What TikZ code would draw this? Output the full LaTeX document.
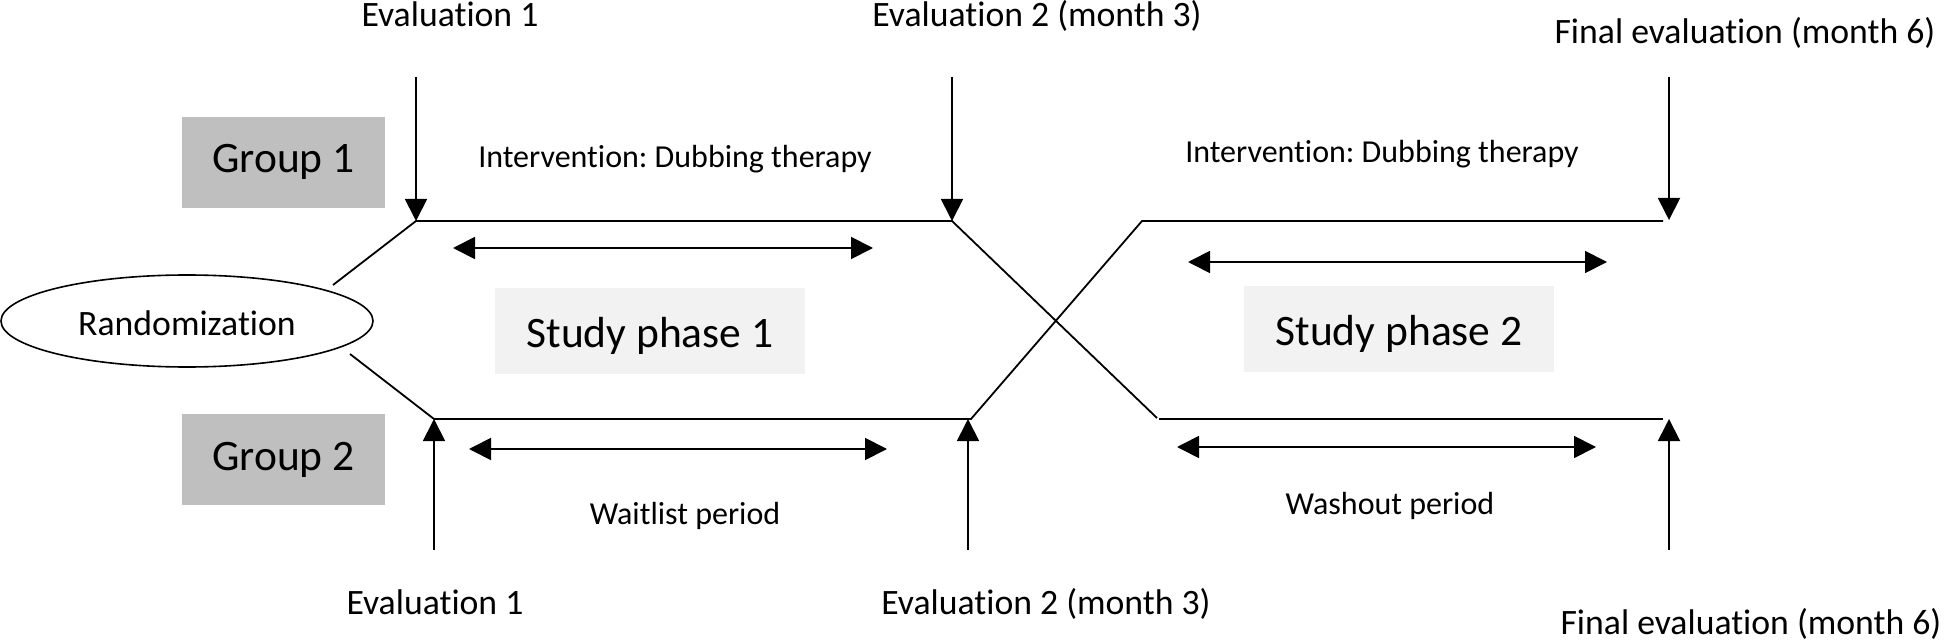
\documentclass[tikz,border=0pt]{standalone}
\usepackage{fontspec}
\setmainfont{Carlito}[Ligatures=NoCommon]
\frenchspacing
\usetikzlibrary{arrows.meta,shapes.geometric}
\definecolor{grpgray}{HTML}{BFBFBF}
\definecolor{phasegray}{HTML}{F2F2F2}
\tikzset{
  evlabel/.style={inner sep=0pt, anchor=base, font=\fontsize{35.7}{42}\selectfont},
  smalllabel/.style={inner sep=0pt, anchor=base, font=\fontsize{32}{38}\selectfont},
  grpbox/.style={fill=grpgray, minimum width=203pt, minimum height=91pt, inner sep=0pt,
    text height=21pt, text depth=0pt, font=\fontsize{43.5}{50}\selectfont},
  phasebox/.style={fill=phasegray, minimum width=310pt, minimum height=86pt, inner sep=0pt,
    text height=32pt, text depth=0pt, font=\fontsize{43.5}{50}\selectfont},
  randbox/.style={ellipse, draw, line width=1.6pt, minimum width=372pt, minimum height=92pt,
    inner sep=0pt, text height=28pt, text depth=0pt, font=\fontsize{35.7}{42}\selectfont},
  flow/.style={line width=1.8pt},
  evarrow/.style={line width=1.8pt, -{Triangle[width=22pt,length=22pt]}},
  spanarrow/.style={line width=1.8pt, {Triangle[width=22pt,length=22pt]}-{Triangle[width=22pt,length=22pt]}},
}
\begin{document}
\begin{tikzpicture}[x=1pt,y=-1pt]
\useasboundingbox (0,0) rectangle (1946,644);

% boxes
\node[grpbox] (g1) at (283.5,162.5) {Group 1};
\node[grpbox] (g2) at (283.5,459.5) {Group 2};
\node[phasebox] (ph1) at (650,331) {Study phase 1};
\node[phasebox] (ph2) at (1399,329) {Study phase 2};
\node[randbox] (rand) at (187,321) {Randomization};

% evaluation labels
\node[evlabel] (et1) at (450,27) {Evaluation 1};
\node[evlabel] (et2) at (1037,27) {Evaluation 2 (month 3)};
\node[evlabel] (et3) at (1745,44) {Final evaluation (month 6)};
\node[evlabel] (eb1) at (435,614) {Evaluation 1};
\node[evlabel] (eb2) at (1046,614) {Evaluation 2 (month 3)};
\node[evlabel] (eb3) at (1751,634) {Final evaluation (month 6)};

% period labels
\node[smalllabel] (int1) at (675,168) {Intervention: Dubbing therapy};
\node[smalllabel] (int2) at (1382,163) {Intervention: Dubbing therapy};
\node[smalllabel] (wait) at (685,524) {Waitlist period};
\node[smalllabel] (wash) at (1390,514) {Washout period};

% coordinates
\coordinate (t1) at (416,77);
\coordinate (t2) at (952,77);
\coordinate (t3) at (1669,77);
\coordinate (p1) at (416,221);
\coordinate (p2) at (952,221);
\coordinate (p3) at (1669,220);
\coordinate (b1) at (434,550);
\coordinate (b2) at (968,550);
\coordinate (b3) at (1669,550);
\coordinate (q1) at (434,419);
\coordinate (q2) at (968,419);
\coordinate (q3) at (1669,419);
\coordinate (u0) at (333,285);
\coordinate (l0) at (350,354);
\coordinate (x1) at (1157,418);
\coordinate (x1b) at (1159,419);
\coordinate (e1) at (1663,419);
\coordinate (j2) at (971,419);
\coordinate (x2) at (1142,221);
\coordinate (e2) at (1663,221);

% group 1 path
\draw[flow] (u0) -- (p1) -- (p2) -- (x1);
\draw[flow] (x1b) -- (e1);
% group 2 path
\draw[flow] (l0) -- (q1) -- (j2) -- (x2) -- (e2);

% evaluation arrows
\draw[evarrow] (t1) -- (p1);
\draw[evarrow] (t2) -- (p2);
\draw[evarrow] (t3) -- (p3);
\draw[evarrow] (b1) -- (q1);
\draw[evarrow] (b2) -- (q2);
\draw[evarrow] (b3) -- (q3);

% span arrows
\coordinate (s1a) at (453,248); \coordinate (s1b) at (873,248);
\coordinate (s2a) at (1188,262); \coordinate (s2b) at (1607,262);
\coordinate (s3a) at (469,449); \coordinate (s3b) at (887,449);
\coordinate (s4a) at (1177,447); \coordinate (s4b) at (1596,447);
\draw[spanarrow] (s1a) -- (s1b);
\draw[spanarrow] (s2a) -- (s2b);
\draw[spanarrow] (s3a) -- (s3b);
\draw[spanarrow] (s4a) -- (s4b);
\end{tikzpicture}
\end{document}
